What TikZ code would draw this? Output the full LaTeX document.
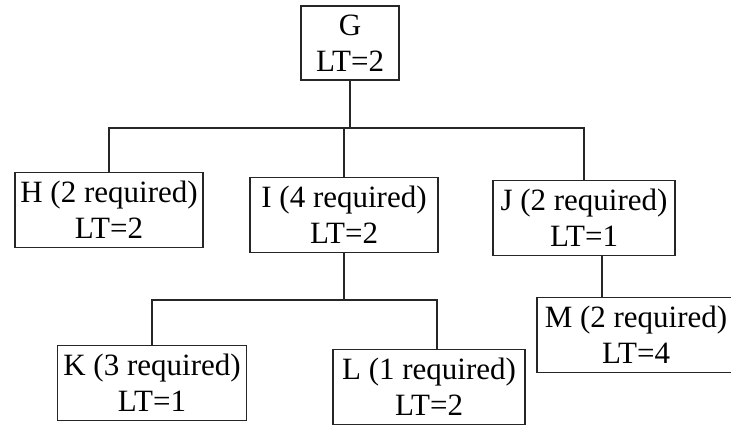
\documentclass[tikz,border=0pt]{standalone}
\usepackage{fontspec}
\setmainfont{Liberation Serif}
\usetikzlibrary{positioning,calc}

\begin{document}
\begin{tikzpicture}[x=0.5pt,y=-0.5pt,
  part/.style={draw=black!85,line width=0.9pt,align=center,inner sep=2pt,minimum height=37.5pt,font=\fontsize{15.5}{18}\selectfont},
  link/.style={draw=black!85,line width=0.9pt}]
\useasboundingbox (0,0) rectangle (731,425);
\node[part,minimum width=49pt,minimum height=37pt] (G) at (350,43) {G\\LT=2};
\node[part,minimum width=94pt] (H) at (109,210) {H (2 required)\\LT=2};
\node[part,minimum width=94pt] (I) at (344,215) {I (4 required)\\LT=2};
\node[part,minimum width=91pt] (J) at (584,218) {J (2 required)\\LT=1};
\node[part,minimum width=94.5pt] (K) at (152,383) {K (3 required)\\LT=1};
\node[part,minimum width=96pt] (L) at (429,387) {L (1 required)\\LT=2};
\node[part,minimum width=99pt] (M) at (636,335) {M (2 required)\\LT=4};

% level 1
\draw[link] (G.south) -- (G.south |- 0,128) coordinate (gbar);
\draw[link] (gbar) -| (H.north);
\draw[link] (gbar) -| (I.north);
\draw[link] (gbar) -| (J.north);

% level 2
\draw[link] (I.south) -- (I.south |- 0,300) coordinate (ibar);
\draw[link] (ibar) -| (K.north);
\draw[link] (ibar) -| ([xshift=4pt]L.north);
\draw[link] ([xshift=9pt]J.south) -- ([xshift=9pt]J.south |- M.north);
\end{tikzpicture}
\end{document}
